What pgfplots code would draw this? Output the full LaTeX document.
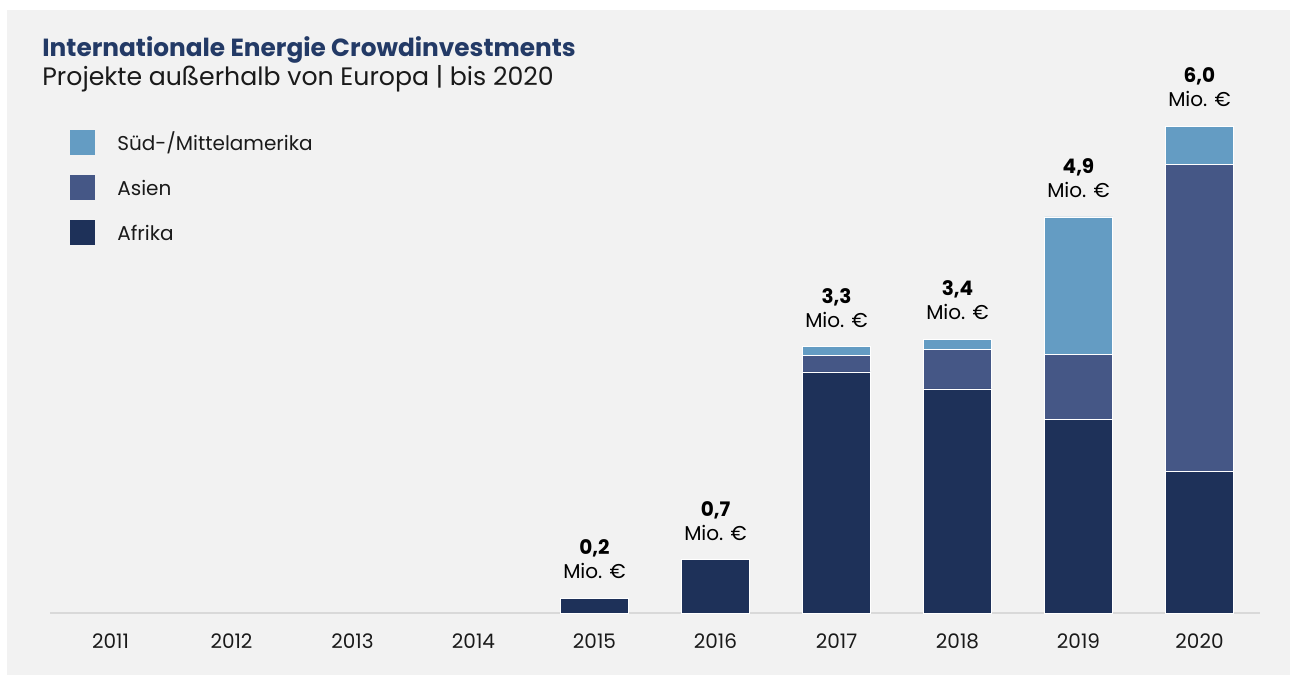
\documentclass[border=0pt]{standalone}
\usepackage{fontspec}
\setmainfont{Poppins}
\usepackage{pgfplots}
\pgfplotsset{compat=1.18}

\definecolor{panel}{HTML}{F2F2F2}
\definecolor{axisgray}{HTML}{D9D9D9}
\definecolor{titleblue}{HTML}{233A66}
\definecolor{cAfrika}{HTML}{1E3159}
\definecolor{cAsien}{HTML}{455786}
\definecolor{cSued}{HTML}{649CC3}
\definecolor{txt}{HTML}{1A1A1A}

\begin{document}
\begin{tikzpicture}
% page and grey panel (1 px = 0.5 pt)
\fill[white] (0,0) rectangle (648.5pt,340.5pt);
\fill[panel] (3.5pt,3pt) rectangle (645pt,335.5pt);

\node[anchor=base west, inner sep=0pt, text=titleblue,
      font=\fontsize{12.4}{14}\selectfont\bfseries] at (21pt,312pt)
      {Internationale Energie Crowdinvestments};
\node[anchor=base west, inner sep=0pt, text=txt,
      font=\fontsize{12.6}{14}\selectfont] at (21pt,297.5pt)
      {Projekte außerhalb von Europa | bis 2020};

\begin{axis}[
    at={(25pt,34pt)}, anchor=south west,
    scale only axis,
    width=605pt, height=243.5pt,
    xmin=-0.5, xmax=9.5,
    ymin=0, ymax=6,
    axis x line=bottom,
    axis y line=none,
    x axis line style={-, draw=axisgray, line width=1pt},
    xtick={0,...,9},
    xticklabels={2011,2012,2013,2014,2015,2016,2017,2018,2019,2020},
    xtick style={draw=none},
    xticklabel style={anchor=base, inner sep=0pt, yshift=-15.5pt,
                      font=\fontsize{10}{12}\selectfont, text=txt},
    clip=false,
    legend cell align=left,
    legend style={
        at={(axis description cs:0.0165,0.992)}, anchor=north west,
        draw=none, fill=none, inner sep=0pt,
        row sep=10pt, column sep=11pt,
        font=\fontsize{10}{12}\selectfont, text=txt,
        nodes={inner sep=0pt, text height=7.5pt, text depth=2.5pt},
    },
    legend image code/.code={
        \fill[#1, draw=none] (0pt,-5.15pt) rectangle (12.5pt,7.35pt);
    },
]

% totals (Süd-/Mittelamerika on top)
\addplot[ybar, bar width=34pt, fill=cSued, draw=white, line width=0.4pt,
    point meta=explicit symbolic,
    nodes near coords,
    nodes near coords style={anchor=south, align=center, inner sep=0pt,
        yshift=9.5pt, text=black,
        font=\fontsize{10}{12}\selectfont},
] coordinates {
    (4,0.18) [\textbf{0,2}\\Mio. €]
    (5,0.656) [\textbf{0,7}\\Mio. €]
    (6,3.28) [\textbf{3,3}\\Mio. €]
    (7,3.375) [\textbf{3,4}\\Mio. €]
    (8,4.88) [\textbf{4,9}\\Mio. €]
    (9,6.0) [\textbf{6,0}\\Mio. €]
};
\addlegendentry{Süd-/Mittelamerika}

% Afrika + Asien
\addplot[ybar, bar width=34pt, fill=cAsien, draw=white, line width=0.4pt]
coordinates {
    (6,3.17) (7,3.25) (8,3.18) (9,5.53)
};
\addlegendentry{Asien}

% Afrika
\addplot[ybar, bar width=34pt, fill=cAfrika, draw=white, line width=0.4pt]
coordinates {
    (4,0.18) (5,0.656) (6,2.97) (7,2.76) (8,2.39) (9,1.74)
};
\addlegendentry{Afrika}

\end{axis}
\end{tikzpicture}
\end{document}
